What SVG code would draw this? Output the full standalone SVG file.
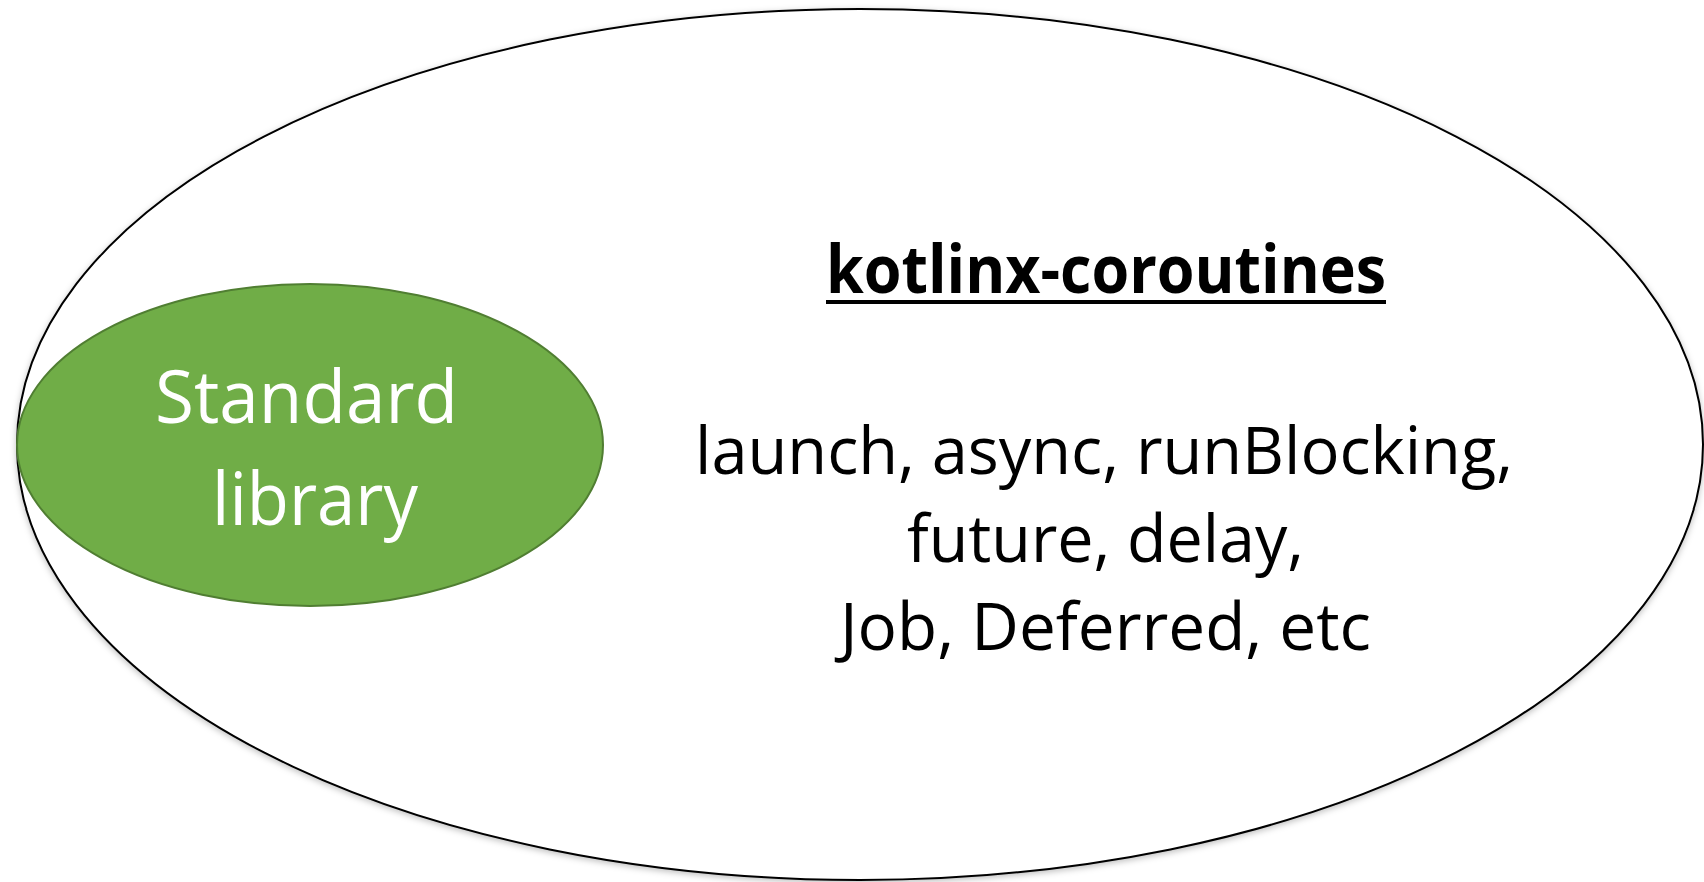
<svg xmlns="http://www.w3.org/2000/svg" width="1704" height="882" viewBox="0 0 1704 882">
  <defs>
    <style>
      .body { font-family: "Open Sans", "Noto Sans", "Liberation Sans", sans-serif; font-size: 66px; fill: #000000; }
      .title { font-family: "Open Sans", "Noto Sans", "Liberation Sans", sans-serif; font-size: 66px; font-weight: bold; fill: #000000; }
      .std { font-family: "Open Sans", "Noto Sans", "Liberation Sans", sans-serif; font-size: 73px; fill: #ffffff; }
    </style>
    <filter id="shadow" x="-5%" y="-5%" width="110%" height="110%">
      <feDropShadow dx="0" dy="2" stdDeviation="3" flood-color="#000000" flood-opacity="0.25"/>
    </filter>
  </defs>
  <rect width="1704" height="882" fill="#ffffff"/>
  <g id="kotlinx-coroutines">
    <ellipse cx="860" cy="444.5" rx="843" ry="435.5" fill="#ffffff" stroke="#000000" stroke-width="2" filter="url(#shadow)"/>
    <text class="title" x="826" y="293" textLength="560" lengthAdjust="spacingAndGlyphs">kotlinx-coroutines</text>
    <line x1="826" y1="302" x2="1386" y2="302" stroke="#000000" stroke-width="4"/>
    <text class="body" x="695" y="474" textLength="818" lengthAdjust="spacingAndGlyphs">launch, async, runBlocking,</text>
    <text class="body" x="907" y="562" textLength="397" lengthAdjust="spacingAndGlyphs">future, delay,</text>
    <text class="body" x="840" y="650" textLength="531" lengthAdjust="spacingAndGlyphs">Job, Deferred, etc</text>
  </g>
  <g id="standard-library">
    <ellipse cx="310" cy="445" rx="293" ry="161" fill="#70ad47" stroke="#507e32" stroke-width="2"/>
    <text class="std" x="155" y="423" textLength="303" lengthAdjust="spacingAndGlyphs">Standard</text>
    <text class="std" x="212" y="525" textLength="206" lengthAdjust="spacingAndGlyphs">library</text>
  </g>
  <g id="connectors"></g>
</svg>
